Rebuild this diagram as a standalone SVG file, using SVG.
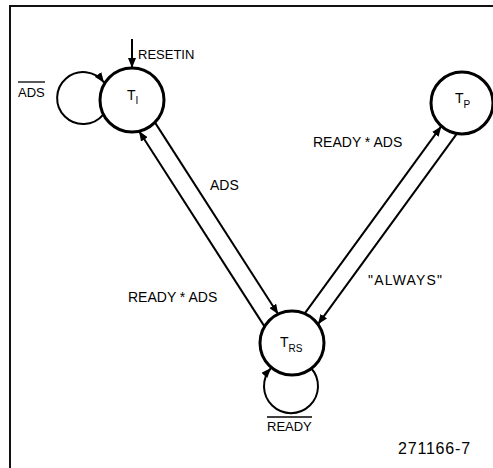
<svg xmlns="http://www.w3.org/2000/svg" width="493" height="468" viewBox="0 0 493 468">
<defs>
<marker id="arr" markerUnits="userSpaceOnUse" markerWidth="10" markerHeight="8" viewBox="0 0 10 8" refX="10" refY="4" orient="auto">
<path d="M0,0 L10,4 L0,8 z" fill="#000"/>
</marker>
</defs>
<style>
.node{fill:#fff;stroke:#000;stroke-width:3}
.lbl{font-family:"Liberation Sans",Arial,sans-serif;fill:#000}
.edge{fill:none;stroke:#000;stroke-width:2;marker-end:url(#arr)}
.ovl{stroke:#000;stroke-width:1.3}
.frame{fill:none;stroke:#111;stroke-width:2}
</style>
<rect x="0" y="0" width="493" height="468" fill="#fff"/>
<path class="frame" d="M10,468 V6 H493"/>
<g id="node-TI">
<circle class="node" cx="132" cy="100" r="32"/>
<text class="lbl" x="127" y="100" font-size="14">T<tspan font-size="10" dy="4">I</tspan></text>
</g>
<g id="node-TP">
<circle class="node" cx="462" cy="103" r="31"/>
<text class="lbl" x="455" y="103" font-size="14">T<tspan font-size="10" dy="5">P</tspan></text>
</g>
<g id="node-TRS">
<circle class="node" cx="292" cy="343" r="32"/>
<text class="lbl" x="280" y="347" font-size="14">T<tspan font-size="10" dy="5">RS</tspan></text>
</g>
<g id="connectors">
<path class="edge" d="M132,39 L132,68"/>
<path class="edge" d="M103,114.8 A26,26 0 1 1 104,82.5"/>
<path class="edge" d="M311,368 A27,27 0 1 1 271,368"/>
<path class="edge" d="M264.6,326.6 L139,131"/>
<path class="edge" d="M154.9,122.4 L278.2,314.3"/>
<path class="edge" d="M304.6,313.7 L441.3,126.2"/>
<path class="edge" d="M456.9,133.6 L317.9,324.3"/>
</g>
<g id="labels">
<text class="lbl" x="138" y="59" font-size="13">RESETIN</text>
<text class="lbl" x="18" y="97" font-size="13">ADS</text>
<line class="ovl" x1="18" y1="82" x2="45" y2="82"/>
<text class="lbl" x="313" y="147" font-size="14">READY * ADS</text>
<text class="lbl" x="210" y="190" font-size="14">ADS</text>
<text class="lbl" x="128" y="302" font-size="14">READY * ADS</text>
<text class="lbl" x="368" y="285" font-size="14" letter-spacing="1.2">"ALWAYS"</text>
<text class="lbl" x="267" y="431" font-size="13">READY</text>
<line class="ovl" x1="267" y1="417" x2="312" y2="417"/>
<text class="lbl" x="398" y="454" font-size="16" letter-spacing="0.8">271166-7</text>
</g>
</svg>
